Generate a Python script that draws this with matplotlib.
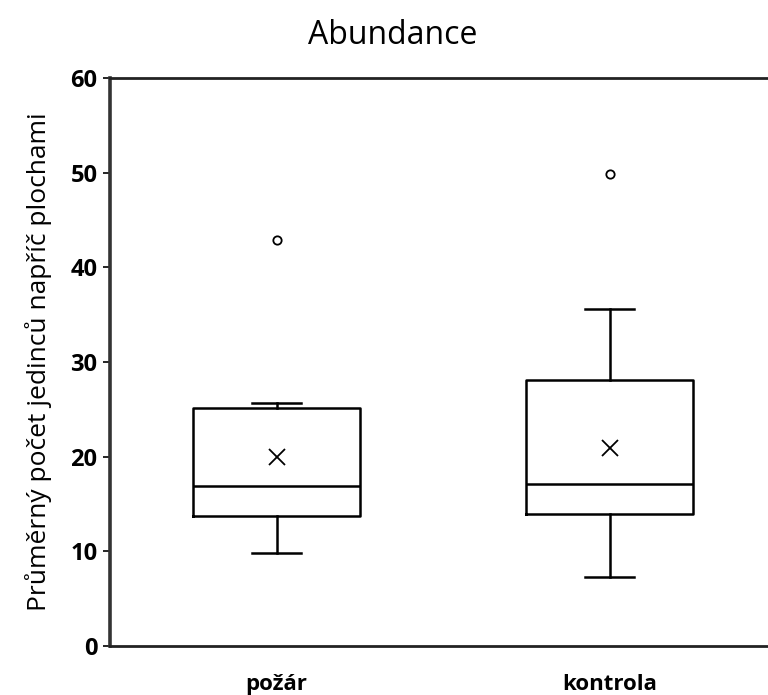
import matplotlib.pyplot as plt

# values
groups = ["požár", "kontrola"]
q1 = [13.7, 13.9]
medians = [16.9, 17.1]
q3 = [25.1, 28.1]
whis_lo = [9.8, 7.3]
whis_hi = [25.7, 35.6]
means = [20.0, 20.9]
outliers = [[42.9], [49.9]]
yticks = [0, 10, 20, 30, 40, 50, 60]

stats = []
for i, name in enumerate(groups):
    stats.append({
        "label": name, "q1": q1[i], "med": medians[i], "q3": q3[i],
        "whislo": whis_lo[i], "whishi": whis_hi[i], "mean": means[i],
        "fliers": outliers[i],
    })

fig = plt.figure(figsize=(7.68, 6.95), dpi=100)
# axes run off the right edge like the cropped original
ax = fig.add_axes([110 / 768, 1 - 646 / 695, 666 / 768, 568 / 695])

ax.bxp(stats, positions=[1, 2], widths=0.5, showmeans=True, patch_artist=False,
       boxprops=dict(color="black", linewidth=1.8),
       medianprops=dict(color="black", linewidth=1.8),
       whiskerprops=dict(color="black", linewidth=1.8),
       capprops=dict(color="black", linewidth=1.8),
       capwidths=0.15,
       meanprops=dict(marker="x", markeredgecolor="black", markersize=12, markeredgewidth=1.3),
       flierprops=dict(marker="o", markerfacecolor="none", markeredgecolor="black",
                       markersize=6, markeredgewidth=1.3))

ax.set_xlim(0.5, 2.5)
ax.set_ylim(0, 60)
ax.set_yticks(yticks)
ax.set_yticklabels([str(t) for t in yticks], fontsize=17, fontweight="bold", family="Open Sans")
ax.set_xticks([1, 2])
ax.set_xticklabels(groups, fontsize=16, fontweight="bold", family="Open Sans")
ax.tick_params(axis="x", length=0, pad=20)
ax.tick_params(axis="y", direction="out", length=5, width=1.2, pad=4)

ax.spines["right"].set_visible(False)
ax.spines["left"].set_linewidth(2.6)
ax.spines["left"].set_color("#333333")
for s in ("top", "bottom"):
    ax.spines[s].set_linewidth(2.0)
    ax.spines[s].set_color("#222222")

ax.set_ylabel("Průměrný počet jedinců napříč plochami", fontsize=19, family="Open Sans")
ax.yaxis.set_label_coords(-58 / 666, 0.5)
fig.text(393 / 768, 1 - 35 / 695, "Abundance", ha="center", va="center",
         fontsize=23, family="Open Sans")

fig.savefig("out.png", dpi=100)
